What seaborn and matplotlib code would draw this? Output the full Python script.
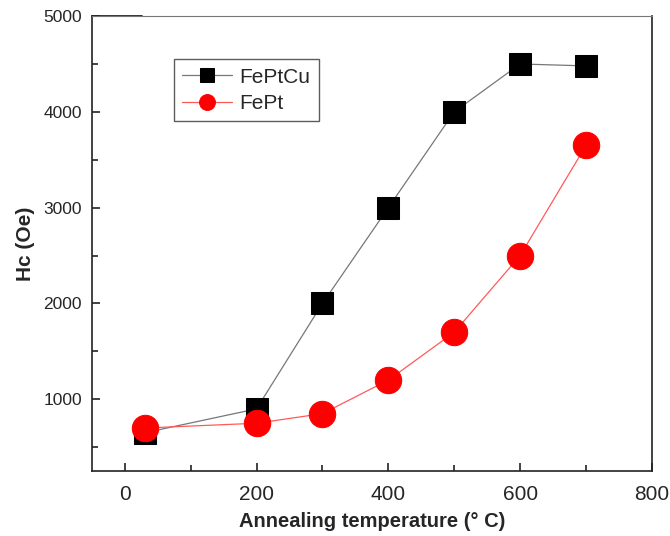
import numpy as np
import pandas as pd
import matplotlib
matplotlib.use("Agg")
import matplotlib.pyplot as plt
from matplotlib.ticker import MultipleLocator
import seaborn as sns

# annealing temperatures (°C) and coercivity (Oe)
temps = [30, 200, 300, 400, 500, 600, 700]
hc_feptcu = [650, 900, 2000, 3000, 4000, 4500, 4480]
hc_fept = [700, 750, 850, 1200, 1700, 2500, 3650]

sns.set_style("ticks")
plt.rcParams['font.family'] = ['Liberation Sans', 'DejaVu Sans']

fig = plt.figure(figsize=(6.7, 5.36), dpi=100)
ax = fig.add_axes([0.137, 0.121, 0.836, 0.849])

sns.lineplot(x=temps, y=hc_feptcu, ax=ax, color='#777777', linewidth=0.9,
             marker='s', markersize=16, markerfacecolor='black',
             markeredgecolor='black', label='FePtCu')
sns.lineplot(x=temps, y=hc_fept, ax=ax, color='#ff5a5a', linewidth=0.9,
             marker='o', markersize=19, markerfacecolor='red',
             markeredgecolor='red', label='FePt')

ax.set_xlim(-50, 800)
ax.set_ylim(250, 5000)
ax.xaxis.set_major_locator(MultipleLocator(200))
ax.xaxis.set_minor_locator(MultipleLocator(100))
ax.yaxis.set_major_locator(MultipleLocator(1000))
ax.yaxis.set_minor_locator(MultipleLocator(500))
ax.tick_params(which='both', direction='in', width=1.2, top=False, right=False,
               color='#222222')
ax.tick_params(which='major', length=6)
ax.tick_params(which='minor', length=4)
ax.tick_params(axis='x', labelsize=15, pad=10)
ax.tick_params(axis='y', labelsize=12.5, pad=7)

for s in ax.spines.values():
    s.set_linewidth(1.2)
    s.set_color('#222222')
ax.spines['top'].set_linewidth(0.8)
ax.spines['top'].set_color('#777777')
# darker stub on the left of the top frame line
ax.axhline(5000, xmin=0, xmax=0.09, color='#222222', lw=1.3, clip_on=False)

ax.set_xlabel('Annealing temperature (° C)', fontsize=14.5, fontweight='bold',
              labelpad=6)
ax.set_ylabel('Hc (Oe)', fontsize=15, fontweight='bold', labelpad=6)

leg = ax.legend(loc='upper left', bbox_to_anchor=(0.146, 0.905),
                borderaxespad=0, fontsize=15, frameon=True, fancybox=False,
                markerscale=0.6, handlelength=2.4, handletextpad=0.35,
                borderpad=0.4, labelspacing=0.35)
leg.get_frame().set_edgecolor('#333333')
leg.get_frame().set_linewidth(1.0)

fig.savefig('out.png', dpi=100)
